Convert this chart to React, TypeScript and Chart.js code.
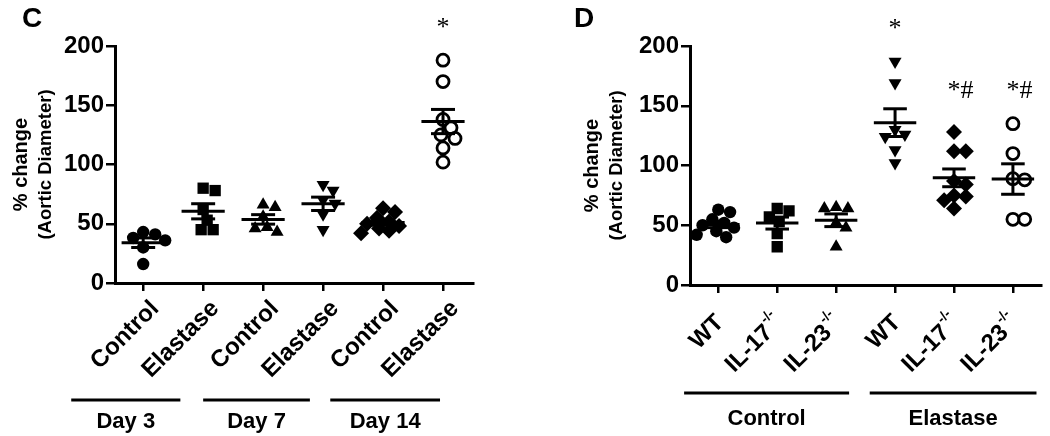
import React, { useEffect, useRef } from "react";
import { Chart, registerables } from "chart.js";
Chart.register(...registerables);

// ---------- Panel C data ----------
const cLabels = ["Control", "Elastase", "Control", "Elastase", "Control", "Elastase"];
const cDay3Control = [41, 43, 38, 36, 30, 16];
const cDay3Elastase = [78, 80, 53, 62, 45, 45];
const cDay7Control = [64, 66, 47, 46, 43, 56];
const cDay7Elastase = [78, 83, 70, 67, 58, 45];
const cDay14Control = [60, 63, 55, 52, 50, 48, 46, 44, 42];
const cDay14Elastase = [188, 170, 138, 131, 125, 122, 114, 102];
const cGroups = ["Day 3", "Day 7", "Day 14"];
const cGroupStart = [-1.2, 1.0, 3.12];
const cGroupEnd = [0.62, 2.78, 4.95];
const cSigText = ["*"];
const cSigCat = [5];
const cSigValue = [215];

// ---------- Panel D data ----------
const dLabels = ["WT", "IL-17", "IL-23", "WT", "IL-17", "IL-23"];
const dSups = ["", "-/-", "-/-", "", "-/-", "-/-"];
const dWtControl = [61, 63, 55, 52, 50, 48, 45, 42, 40];
const dIl17Control = [64, 62, 57, 53, 43, 32];
const dIl23Control = [65, 64, 64, 52, 48, 32];
const dWtElastase = [187, 169, 130, 126, 124, 113, 102];
const dIl17Elastase = [128, 112, 112, 87, 84, 75, 74, 71, 64];
const dIl23Elastase = [135, 110, 89, 88, 55, 55];
const dGroups = ["Control", "Elastase"];
const dGroupStart = [-0.58, 2.57];
const dGroupEnd = [2.22, 5.4];
const dSigText = ["*", "*#", "*#"];
const dSigCat = [3, 4, 5];
const dSigValue = [214, 162, 162];

const yTicks = [0, 50, 100, 150, 200];

// marker styles (shared order for both panels)
const markerStyles = [
  { style: "circle", rotation: 0, radius: 6.2, filled: true },
  { style: "rect", rotation: 0, radius: 8, filled: true },
  { style: "triangle", rotation: 0, radius: 7.5, filled: true },
  { style: "triangle", rotation: 180, radius: 7.5, filled: true },
  { style: "rectRot", rotation: 0, radius: 8, filled: true },
  { style: "circle", rotation: 0, radius: 6, filled: false },
];

const SANS = '"Liberation Sans", Arial, sans-serif';
const SERIF = '"Liberation Serif", "Times New Roman", serif';

function mean(a: number[]) {
  return a.reduce((s, v) => s + v, 0) / a.length;
}
function sem(a: number[]) {
  const m = mean(a);
  const v = a.reduce((s, x) => s + (x - m) * (x - m), 0) / (a.length - 1);
  return Math.sqrt(v) / Math.sqrt(a.length);
}

// bounded beeswarm: horizontal offsets (category units) limiting overlap within a max spread
function swarm(values: number[], pxPerY: number, pxPerX: number, minDist = 11, maxOff = 22, step = 2) {
  const order = values.map((_, i) => i).sort((a, b) => values[b] - values[a]);
  const placed: { x: number; y: number }[] = [];
  const offs = new Array(values.length).fill(0);
  const cands: number[] = [0];
  for (let s = step; s <= maxOff; s += step) cands.push(s, -s);
  for (const i of order) {
    const y = values[i] * pxPerY;
    let chosen = 0;
    let best = -1;
    let bestCand = 0;
    let found = false;
    for (const c of cands) {
      const d = placed.length ? Math.min(...placed.map((p) => Math.hypot(p.x - c, p.y - y))) : Infinity;
      if (d >= minDist) {
        chosen = c;
        found = true;
        break;
      }
      if (d > best) {
        best = d;
        bestCand = c;
      }
    }
    if (!found) chosen = bestCand;
    placed.push({ x: chosen, y });
    offs[i] = chosen / pxPerX;
  }
  return offs;
}

type PanelCfg = {
  letter: string;
  series: number[][];
  labels: string[];
  sups: string[];
  groups: string[];
  groupStart: number[];
  groupEnd: number[];
  sigText: string[];
  sigCat: number[];
  sigValue: number[];
  L: number;
  R: number;
  T: number;
  H: number;
  xMin: number;
  xMax: number;
  letterX: number;
  title1X: number;
  title2X: number;
  labelDX: number;
  labelDY: number;
  bracketDY: number;
  groupTextDY: number;
};

function makeChart(canvas: HTMLCanvasElement, p: PanelCfg) {
  const W = canvas.width;
  const Hc = canvas.height;
  const plotW = W - p.L - p.R;
  const plotH = Hc - p.T - p.H;
  const pxPerX = plotW / (p.xMax - p.xMin);
  const pxPerY = plotH / 200;

  const datasets = p.series.map((vals, i) => {
    const st = markerStyles[i];
    const offs = swarm(vals, pxPerY, pxPerX);
    return {
      type: "scatter" as const,
      data: vals.map((v, j) => ({ x: i + offs[j], y: v })),
      pointStyle: st.style,
      rotation: st.rotation,
      pointRadius: st.radius,
      pointHoverRadius: st.radius,
      pointBackgroundColor: st.filled ? "#000" : "rgba(0,0,0,0)",
      pointBorderColor: "#000",
      pointBorderWidth: st.filled ? 0 : 2.8,
    };
  });

  const overlay = {
    id: "overlay",
    afterDatasetsDraw(chart: any) {
      const ctx = chart.ctx;
      const xs = chart.scales.x;
      const ys = chart.scales.y;
      ctx.save();
      ctx.strokeStyle = "#000";
      ctx.lineWidth = 3;
      const seg = (x1: number, y1: number, x2: number, y2: number) => {
        ctx.beginPath();
        ctx.moveTo(x1, y1);
        ctx.lineTo(x2, y2);
        ctx.stroke();
      };
      p.series.forEach((vals, i) => {
        const m = mean(vals);
        const e = sem(vals);
        const xc = xs.getPixelForValue(i);
        const xl = xs.getPixelForValue(i - 0.36);
        const xr = xs.getPixelForValue(i + 0.36);
        const cl = xs.getPixelForValue(i - 0.2);
        const cr = xs.getPixelForValue(i + 0.2);
        const ym = ys.getPixelForValue(m);
        const yt = ys.getPixelForValue(m + e);
        const yb = ys.getPixelForValue(m - e);
        seg(xl, ym, xr, ym);
        seg(xc, yt, xc, yb);
        seg(cl, yt, cr, yt);
        seg(cl, yb, cr, yb);
      });
      ctx.restore();
    },
    afterDraw(chart: any) {
      const ctx = chart.ctx;
      const xs = chart.scales.x;
      const ys = chart.scales.y;
      const ca = chart.chartArea;
      ctx.save();
      ctx.fillStyle = "#000";
      ctx.strokeStyle = "#000";

      // panel letter
      ctx.font = `bold 28px ${SANS}`;
      ctx.textAlign = "center";
      ctx.textBaseline = "middle";
      ctx.fillText(p.letter, p.letterX, 19);

      // y title
      const yc = (ca.top + ca.bottom) / 2;
      ctx.save();
      ctx.translate(p.title1X, yc);
      ctx.rotate(-Math.PI / 2);
      ctx.font = `bold 20px ${SANS}`;
      ctx.fillText("% change", 0, 0);
      ctx.restore();
      ctx.save();
      ctx.translate(p.title2X, yc);
      ctx.rotate(-Math.PI / 2);
      ctx.font = `bold 18.5px ${SANS}`;
      ctx.fillText("(Aortic Diameter)", 0, 0);
      ctx.restore();

      // rotated category labels
      const mainFont = `bold 24px ${SANS}`;
      const supFont = `bold 14px ${SANS}`;
      p.labels.forEach((lab, i) => {
        const sup = p.sups[i] || "";
        const x = xs.getPixelForValue(i) + p.labelDX;
        const y = ca.bottom + p.labelDY;
        ctx.save();
        ctx.translate(x, y);
        ctx.rotate(-Math.PI / 4);
        ctx.font = mainFont;
        const wMain = ctx.measureText(lab).width;
        ctx.font = supFont;
        const wSup = sup ? ctx.measureText(sup).width + 1 : 0;
        ctx.textAlign = "left";
        ctx.textBaseline = "middle";
        ctx.font = mainFont;
        ctx.fillText(lab, -(wMain + wSup), 0);
        if (sup) {
          ctx.font = supFont;
          ctx.fillText(sup, -wSup + 1, -10);
        }
        ctx.restore();
      });

      // group brackets
      ctx.lineWidth = 3;
      p.groups.forEach((g, k) => {
        const x1 = xs.getPixelForValue(p.groupStart[k]);
        const x2 = xs.getPixelForValue(p.groupEnd[k]);
        const yb = ca.bottom + p.bracketDY;
        ctx.beginPath();
        ctx.moveTo(x1, yb);
        ctx.lineTo(x2, yb);
        ctx.stroke();
        ctx.font = `bold 22px ${SANS}`;
        ctx.textAlign = "center";
        ctx.textBaseline = "alphabetic";
        ctx.fillText(g, (x1 + x2) / 2, ca.bottom + p.groupTextDY);
      });

      // significance marks
      ctx.font = `26px ${SERIF}`;
      ctx.textBaseline = "middle";
      ctx.textAlign = "left";
      p.sigText.forEach((t, k) => {
        const x = xs.getPixelForValue(p.sigCat[k]);
        const y = ys.getPixelForValue(p.sigValue[k]);
        const wStar = ctx.measureText("*").width;
        ctx.fillText(t, x - wStar / 2, y);
      });
      ctx.restore();
    },
  };

  const axisGrid = (len: number) => ({
    display: true,
    drawOnChartArea: false,
    drawTicks: true,
    tickLength: len,
    lineWidth: 2.5,
    color: "#000",
  });

  return new Chart(canvas, {
    type: "scatter",
    data: { datasets: datasets as any },
    options: {
      responsive: false,
      animation: false,
      events: [],
      layout: { padding: { left: 0, right: p.R, top: p.T, bottom: 0 } },
      plugins: { legend: { display: false }, tooltip: { enabled: false } },
      scales: {
        x: {
          type: "linear",
          min: p.xMin,
          max: p.xMax,
          afterBuildTicks: (s: any) => {
            s.ticks = p.labels.map((_, i) => ({ value: i }));
          },
          afterFit: (s: any) => {
            s.height = p.H;
          },
          ticks: { display: false },
          grid: axisGrid(8) as any,
          border: { display: true, width: 3, color: "#000" },
        },
        y: {
          type: "linear",
          min: 0,
          max: 200,
          afterBuildTicks: (s: any) => {
            s.ticks = yTicks.map((v) => ({ value: v }));
          },
          afterFit: (s: any) => {
            s.width = p.L;
          },
          ticks: {
            color: "#000",
            padding: 2,
            font: { family: SANS, size: 24, weight: "bold" },
          },
          grid: axisGrid(9) as any,
          border: { display: true, width: 3, color: "#000" },
        },
      },
    },
    plugins: [overlay],
  });
}

const panelC: PanelCfg = {
  letter: "C",
  series: [cDay3Control, cDay3Elastase, cDay7Control, cDay7Elastase, cDay14Control, cDay14Elastase],
  labels: cLabels,
  sups: ["", "", "", "", "", ""],
  groups: cGroups,
  groupStart: cGroupStart,
  groupEnd: cGroupEnd,
  sigText: cSigText,
  sigCat: cSigCat,
  sigValue: cSigValue,
  L: 115,
  R: 52,
  T: 46,
  H: 153,
  xMin: -0.47,
  xMax: 5.5,
  letterX: 32,
  title1X: 21,
  title2X: 46,
  labelDX: 12,
  labelDY: 22,
  bracketDY: 117,
  groupTextDY: 145,
};

const panelD: PanelCfg = {
  letter: "D",
  series: [dWtControl, dIl17Control, dIl23Control, dWtElastase, dIl17Elastase, dIl23Elastase],
  labels: dLabels,
  sups: dSups,
  groups: dGroups,
  groupStart: dGroupStart,
  groupEnd: dGroupEnd,
  sigText: dSigText,
  sigCat: dSigCat,
  sigValue: dSigValue,
  L: 165,
  R: 3,
  T: 46,
  H: 151,
  xMin: -0.48,
  xMax: 5.48,
  letterX: 59,
  title1X: 67,
  title2X: 92,
  labelDX: 2,
  labelDY: 34,
  bracketDY: 108,
  groupTextDY: 140,
};

export default function App() {
  const refC = useRef<HTMLCanvasElement>(null);
  const refD = useRef<HTMLCanvasElement>(null);
  useEffect(() => {
    const c1 = makeChart(refC.current!, panelC);
    const c2 = makeChart(refD.current!, panelD);
    return () => {
      c1.destroy();
      c2.destroy();
    };
  }, []);
  return (
    <div style={{ position: "absolute", left: 0, top: 0, width: 1050, height: 436, background: "#fff" }}>
      <canvas ref={refC} width={525} height={436} style={{ position: "absolute", left: 0, top: 0, width: 525, height: 436 }} />
      <canvas ref={refD} width={525} height={436} style={{ position: "absolute", left: 525, top: 0, width: 525, height: 436 }} />
    </div>
  );
}
